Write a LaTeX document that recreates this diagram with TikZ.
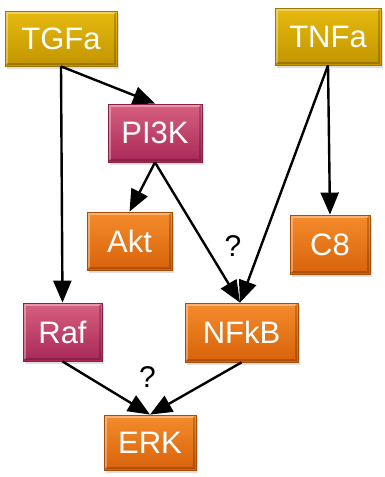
\documentclass[tikz,border=0pt]{standalone}
\usepackage{fontspec}
\setmainfont{Liberation Sans}
\usetikzlibrary{arrows.meta,shadows}
\definecolor{goldT}{HTML}{E6BA0E}
\definecolor{goldB}{HTML}{C29500}
\definecolor{goldE}{HTML}{9C7800}
\definecolor{pinkT}{HTML}{D8607F}
\definecolor{pinkB}{HTML}{A82858}
\definecolor{pinkE}{HTML}{8A2046}
\definecolor{orT}{HTML}{F48C2C}
\definecolor{orB}{HTML}{D8620A}
\definecolor{orE}{HTML}{A84C06}
\tikzset{
  box/.style={rectangle, text=white, line width=0.8pt, inner sep=0pt,
    font=\fontsize{31}{36}\selectfont,
    drop shadow={shadow xshift=1.5pt, shadow yshift=-3pt, opacity=0.25},
    path picture={
      \draw[white, opacity=0.35, line width=2pt]
        ([xshift=2pt,yshift=2pt]path picture bounding box.south west) --
        ([xshift=2pt,yshift=-2pt]path picture bounding box.north west) --
        ([xshift=-2pt,yshift=-2pt]path picture bounding box.north east);
      \draw[black, opacity=0.2, line width=2pt]
        ([xshift=-2pt,yshift=-2pt]path picture bounding box.north east) --
        ([xshift=-2pt,yshift=2pt]path picture bounding box.south east) --
        ([xshift=2pt,yshift=2pt]path picture bounding box.south west);
    }},
  goldbox/.style={box, top color=goldT, bottom color=goldB, draw=goldE},
  pinkbox/.style={box, top color=pinkT, bottom color=pinkB, draw=pinkE},
  orbox/.style={box, top color=orT, bottom color=orB, draw=orE},
  conn/.style={line width=2.4pt, -{Triangle[length=22pt,width=18pt]}},
  qmark/.style={font=\fontsize{30}{34}\selectfont, text=black}
}
\begin{document}
\begin{tikzpicture}[x=1pt,y=-1pt]
\useasboundingbox (0,0) rectangle (385,477);
\node[goldbox, minimum width=112pt, minimum height=55pt] (TGFa) at (61,38.5) {TGFa};
\node[goldbox, minimum width=106pt, minimum height=57pt] (TNFa) at (328,36.5) {TNFa};
\node[pinkbox, minimum width=94pt, minimum height=58pt] (PI3K) at (155,133) {PI3K};
\node[orbox, minimum width=85pt, minimum height=58pt] (Akt) at (129.5,241) {Akt};
\node[orbox, minimum width=80pt, minimum height=59pt] (C8) at (330,244.5) {C8};
\node[pinkbox, minimum width=79pt, minimum height=58pt] (Raf) at (62.5,332) {Raf};
\node[orbox, minimum width=113pt, minimum height=59pt] (NFkB) at (241.5,332.5) {NFkB};
\node[orbox, minimum width=92pt, minimum height=55pt] (ERK) at (150,442.5) {ERK};
\node[qmark] (q1) at (233,246) {?};
\node[qmark] (q2) at (147.5,377.5) {?};
\draw[conn] (TGFa.south) -- (Raf.north);
\draw[conn] (TGFa.south) -- (PI3K.north);
\draw[conn] (TNFa.south) -- (C8.north);
\draw[conn] (TNFa.south) -- ([xshift=-1.5pt]NFkB.north);
\draw[conn] (PI3K.south) -- (Akt.north);
\draw[conn] (PI3K.south) -- ([xshift=-1.5pt]NFkB.north);
\draw[conn] (Raf.south) -- (ERK.north);
\draw[conn] (NFkB.south) -- (ERK.north);
\end{tikzpicture}
\end{document}
